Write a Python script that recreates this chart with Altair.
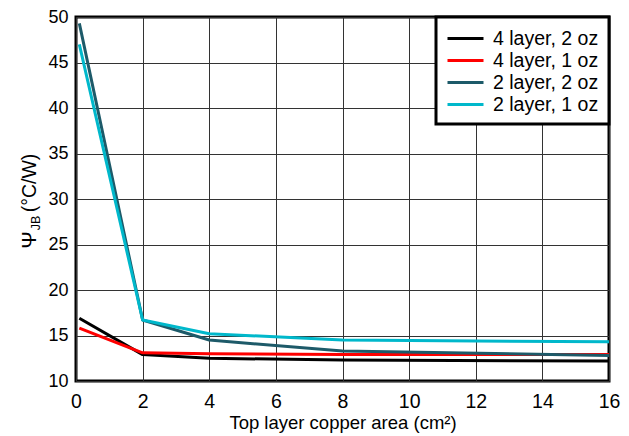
import altair as alt
import pandas as pd

# ---- data ----
x_area = [0.1, 2, 4, 8, 16]
series_names = ["4 layer, 2 oz", "4 layer, 1 oz", "2 layer, 2 oz", "2 layer, 1 oz"]
s_4l_2oz = [16.9, 12.9, 12.5, 12.3, 12.2]
s_4l_1oz = [15.8, 13.1, 13.0, 12.9, 12.9]
s_2l_2oz = [49.3, 16.7, 14.5, 13.3, 12.8]
s_2l_1oz = [47.0, 16.7, 15.2, 14.5, 14.3]
series_colors = ["#000000", "#ff0000", "#1d5a69", "#00b8cb"]
x_ticks = [0, 2, 4, 6, 8, 10, 12, 14, 16]
y_ticks = [10, 15, 20, 25, 30, 35, 40, 45, 50]
x_title = "Top layer copper area (cm²)"
y_title_main = ["Ψ"]
y_title_sub = ["JB"]
y_title_unit = ["(°C/W)"]

FONT = "Liberation Sans, Arial, sans-serif"
FS = 19.5

rows = []
for name, vals in zip(series_names, [s_4l_2oz, s_4l_1oz, s_2l_2oz, s_2l_1oz]):
    for i, (xv, yv) in enumerate(zip(x_area, vals)):
        rows.append({"area": xv, "psi": yv, "series": name, "idx": i})
df = pd.DataFrame(rows)

lines = alt.Chart(df).mark_line(strokeWidth=3, strokeJoin="round").encode(
    x=alt.X("area:Q",
            scale=alt.Scale(domain=[0, 16], nice=False, zero=False),
            axis=alt.Axis(values=x_ticks, title=x_title, grid=True, ticks=False,
                          domain=False, labelPadding=11, titlePadding=3,
                          labelFontSize=FS, titleFontSize=18.5, titleFontWeight="normal",
                          labelFont=FONT, titleFont=FONT, labelColor="black",
                          titleColor="black", labelFlush=False)),
    y=alt.Y("psi:Q",
            scale=alt.Scale(domain=[10, 50], nice=False, zero=False),
            axis=alt.Axis(values=y_ticks, title=None, grid=True, ticks=False,
                          domain=False, labelPadding=8, labelFontSize=18,
                          labelFont=FONT, labelColor="black", labelFlush=False)),
    color=alt.Color("series:N",
                    scale=alt.Scale(domain=series_names, range=series_colors),
                    legend=alt.Legend(title=None, orient="top-right", offset=0)),
    order="idx:Q",
)

t_main = alt.Chart(pd.DataFrame({"t": y_title_main})).mark_text(
    angle=270, align="center", baseline="alphabetic", fontSize=21, font=FONT, color="black"
).encode(text="t:N", x=alt.value(-40), y=alt.value(223))

t_sub = alt.Chart(pd.DataFrame({"t": y_title_sub})).mark_text(
    angle=270, align="center", baseline="alphabetic", fontSize=12.5, font=FONT, color="black"
).encode(text="t:N", x=alt.value(-36), y=alt.value(206))

t_unit = alt.Chart(pd.DataFrame({"t": y_title_unit})).mark_text(
    angle=270, align="center", baseline="alphabetic", fontSize=FS, font=FONT, color="black"
).encode(text="t:N", x=alt.value(-40), y=alt.value(166))

chart = alt.layer(lines, t_main, t_sub, t_unit).properties(
    width=533, height=364,
    autosize=alt.AutoSizeParams(type="none"),
    padding={"left": 68, "top": 9, "right": 12, "bottom": 55},
).configure_view(
    stroke="black", strokeWidth=3
).configure_axis(
    gridColor="#333333", gridWidth=1, gridOpacity=1
).configure_legend(
    labelFontSize=FS, labelFont=FONT, labelColor="black",
    symbolType="M-1.8,0H1.8", symbolSize=400, symbolStrokeWidth=3,
    symbolOffset=8, labelOffset=16, padding=10, rowPadding=1,
    strokeColor="black", strokeWidth=3, fillColor="white",
)

chart.save("out.html", embed_options={"renderer": "svg", "actions": False})
